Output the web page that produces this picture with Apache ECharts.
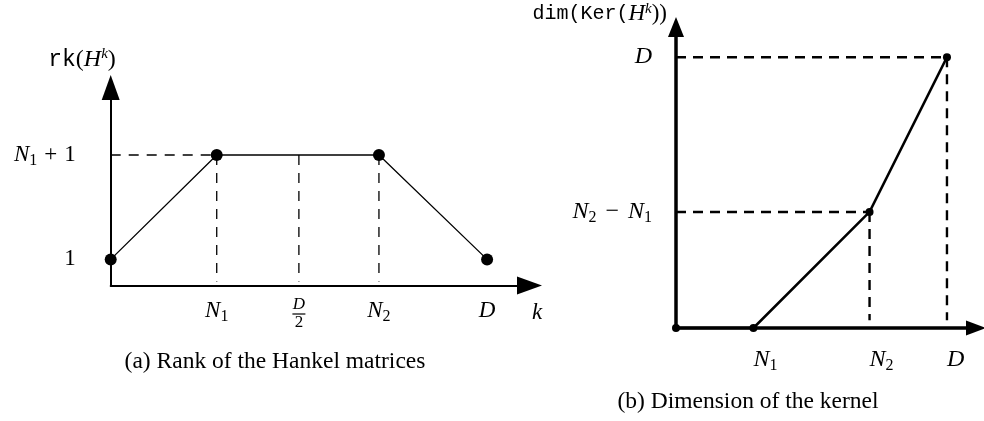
<!DOCTYPE html>
<html>
<head>
<meta charset="utf-8">
<script src="https://cdn.jsdelivr.net/npm/echarts@6/dist/echarts.min.js"></script>
<style>
  html, body { margin: 0; padding: 0; background: #fff; }
  #chart { width: 984px; height: 421px; }
</style>
</head>
<body>
<div id="chart"></div>
<script>
// (a) rank of the Hankel matrices, points at k = 0, N1, N2, D
const rankK = [0, 2, 5.06, 7.1]
const rankValue = [1, 5, 5, 1]
const rankXTicks = [2, 3.55, 5.06, 7.1] // N1, D/2, N2, D
const rankXLabels = ['N1', 'D/2', 'N2', 'D']
const rankYTicks = [1, 5]
const rankYLabels = ['1', 'N1+1']

// (b) dimension of the kernel, points at k = 0, N1, N2, D
const kerK = [0, 2, 5, 7]
const kerValue = [0, 0, 3, 7]
const kerXTicks = [2, 5, 7]
const kerXLabels = ['N1', 'N2', 'D']
const kerYTicks = [3, 7]
const kerYLabels = ['N2-N1', 'D']

const serif = 'Liberation Serif'
const mono = 'Liberation Mono'

// math-ish labels as rich text
const tex = {
  'N1': '{i|N}{sub|1}',
  'N2': '{i|N}{sub|2}',
  'D': '{i|D}',
  'D/2': '{fri|D}\n{bar| }\n{fr|2}',
  '1': '{r|1}',
  'N1+1': '{i|N}{sub|1}{op|+}{r|1}',
  'N2-N1': '{i|N}{sub|2}{op|\u2212}{i|N}{sub|1}'
}

function richSet(size, opPad) {
  return {
    i: { fontFamily: serif, fontStyle: 'italic', fontSize: size, color: '#000', lineHeight: size + 4 },
    r: { fontFamily: serif, fontSize: size, color: '#000', lineHeight: size + 4 },
    op: { fontFamily: serif, fontSize: size, color: '#000', lineHeight: size + 4, padding: [0, opPad, 0, opPad] },
    sub: { fontFamily: serif, fontSize: Math.round(size * 0.68), color: '#000', lineHeight: Math.round(size * 0.68), verticalAlign: 'bottom' },
    fri: { fontFamily: serif, fontStyle: 'italic', fontSize: 17, color: '#000', lineHeight: 15 },
    fr: { fontFamily: serif, fontSize: 17, color: '#000', lineHeight: 15 },
    bar: { fontSize: 2, lineHeight: 3, width: 13, height: 1.2, backgroundColor: '#000' }
  }
}

function labelAt(ticks, labels) {
  return function (v) {
    const idx = ticks.findIndex(t => Math.abs(t - v) < 1e-6)
    return idx < 0 ? '' : tex[labels[idx]]
  }
}

function pairs(xs, ys) {
  return xs.map((x, i) => [x, ys[i]])
}

function guide(data, width, dash, xi, yi) {
  return {
    type: 'line', xAxisIndex: xi, yAxisIndex: yi, data: data,
    symbol: 'none', silent: true, clip: false, z: 1,
    lineStyle: { color: '#000', width: width, type: dash }
  }
}

let series = []

// dashed guides for (a)
const peak = rankValue[1]
series.push(guide([[0, peak], [rankK[1], peak]], 1.3, [10, 8], 0, 0))
rankXTicks.slice(0, 3).forEach(x => {
  series.push(guide([[x, peak], [x, 0.15]], 1.3, [10, 8], 0, 0))
})
// dashed guides for (b)
;[2, 3].forEach(i => {
  series.push(guide([[0, kerValue[i]], [kerK[i], kerValue[i]]], 2.4, [10, 7], 1, 1))
  series.push(guide([[kerK[i], kerValue[i]], [kerK[i], 0.2]], 2.4, [10, 7], 1, 1))
})

series.push({
  type: 'line', xAxisIndex: 0, yAxisIndex: 0, data: pairs(rankK, rankValue),
  symbol: 'circle', symbolSize: 12, clip: false, z: 5,
  itemStyle: { color: '#000' },
  lineStyle: { color: '#000', width: 1.3 }
})
series.push({
  type: 'line', xAxisIndex: 1, yAxisIndex: 1, data: pairs(kerK, kerValue),
  symbol: 'circle', symbolSize: 8, clip: false, z: 5,
  itemStyle: { color: '#000' },
  lineStyle: { color: '#000', width: 2.5 }
})

function valueAxis(max, lineWidth, arrow, ticks, labels, size, opPad, margin, align) {
  return {
    type: 'value', min: 0, max: max,
    splitLine: { show: false },
    axisTick: { show: false },
    axisLine: {
      show: true, onZero: false,
      symbol: ['none', 'triangle'], symbolSize: arrow,
      lineStyle: { color: '#000', width: lineWidth }
    },
    axisLabel: {
      customValues: ticks,
      formatter: labelAt(ticks, labels),
      rich: richSet(size, opPad),
      margin: margin,
      align: align
    }
  }
}

const option = {
  animation: false,
  backgroundColor: '#fff',
  grid: [
    { left: 110.7, top: 87.5, width: 418.8, height: 198 },
    { left: 676, top: 27, width: 300, height: 301 }
  ],
  xAxis: [
    Object.assign(valueAxis(7.9, 2, [18, 25], rankXTicks, rankXLabels, 23, 7, 12, 'center'), { gridIndex: 0 }),
    Object.assign(valueAxis(7.75, 3.5, [15, 20], kerXTicks, kerXLabels, 24, 9, 18, 'left'), { gridIndex: 1 })
  ],
  yAxis: [
    Object.assign(valueAxis(7.586, 2, [18, 25], rankYTicks, rankYLabels, 23, 7, 35, 'right'), { gridIndex: 0 }),
    Object.assign(valueAxis(7.78, 3.5, [16, 20], kerYTicks, kerYLabels, 24, 9, 24, 'right'), { gridIndex: 1 })
  ],
  graphic: [
    {
      type: 'text', x: 82, y: 60,
      style: {
        text: '{tt|rk}{r|(}{i|H}{sup|k}{r|)}',
        align: 'center', verticalAlign: 'middle',
        rich: {
          tt: { fontFamily: mono, fontSize: 23, color: '#000', lineHeight: 26 },
          r: { fontFamily: serif, fontSize: 24, color: '#000', lineHeight: 26 },
          i: { fontFamily: serif, fontStyle: 'italic', fontSize: 24, color: '#000', lineHeight: 26 },
          sup: { fontFamily: serif, fontStyle: 'italic', fontSize: 15, color: '#000', lineHeight: 18, verticalAlign: 'top' }
        }
      }
    },
    {
      type: 'text', x: 537, y: 313,
      style: { text: 'k', font: 'italic 23px "Liberation Serif"', fill: '#000', align: 'center', verticalAlign: 'middle' }
    },
    {
      type: 'text', x: 667, y: 14,
      style: {
        text: '{tt|dim(Ker(}{i|H}{sup|k}{r|))}',
        align: 'right', verticalAlign: 'middle',
        rich: {
          tt: { fontFamily: mono, fontSize: 20, color: '#000', lineHeight: 24 },
          r: { fontFamily: serif, fontSize: 23, color: '#000', lineHeight: 24 },
          i: { fontFamily: serif, fontStyle: 'italic', fontSize: 23, color: '#000', lineHeight: 24 },
          sup: { fontFamily: serif, fontStyle: 'italic', fontSize: 15, color: '#000', lineHeight: 17, verticalAlign: 'top' }
        }
      }
    },
    {
      type: 'text', x: 275, y: 362,
      style: { text: '(a) Rank of the Hankel matrices', font: '23.5px "Liberation Serif"', fill: '#000', align: 'center', verticalAlign: 'middle' }
    },
    {
      type: 'text', x: 748, y: 402,
      style: { text: '(b) Dimension of the kernel', font: '23.5px "Liberation Serif"', fill: '#000', align: 'center', verticalAlign: 'middle' }
    }
  ],
  series: series
}

const myChart = echarts.init(document.getElementById('chart'))
myChart.setOption(option)
</script>
</body>
</html>
